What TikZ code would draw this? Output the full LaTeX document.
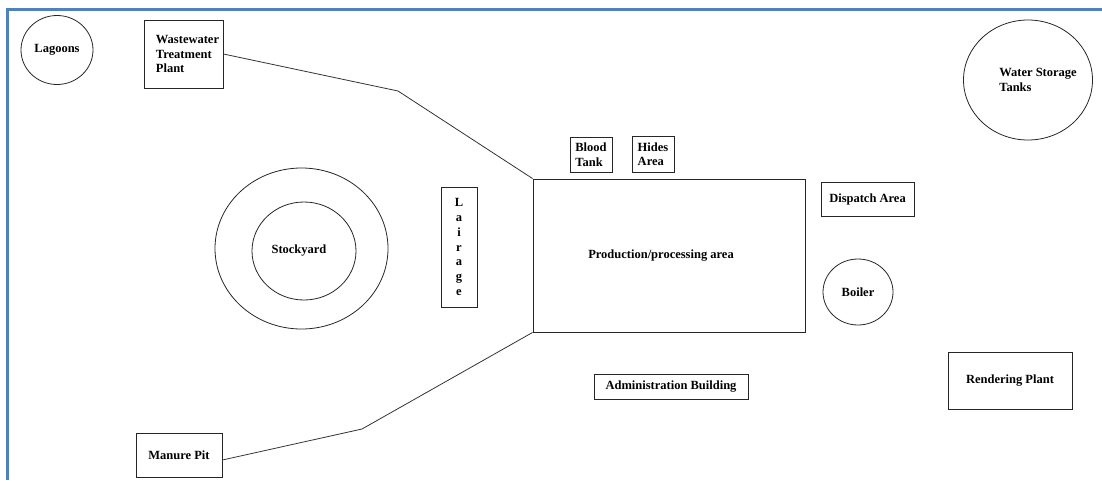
\documentclass[tikz,border=0pt]{standalone}
\usepackage{fontspec}
\setmainfont{Liberation Serif}
\usepackage{tikz}
\usetikzlibrary{shapes.geometric}
\usepackage{xcolor}
\definecolor{rahmenblau}{RGB}{79,129,189}

\begin{document}
\begin{tikzpicture}[x=1pt,y=-1pt,
  every node/.style={font=\fontsize{12.5}{14.5}\selectfont\bfseries},
  kasten/.style={draw=black!85,line width=0.9pt,inner sep=0pt},
  rund/.style={draw=black!85,line width=0.8pt,ellipse,inner sep=0pt},
  weg/.style={draw=black!80,line width=0.8pt}]
  \useasboundingbox (0,0) rectangle (1102,480);
  % Rahmen
  \draw[rahmenblau,line width=3pt] (7,480) -- (7,9) -- (1102,9);

  % Kreise
  \node[rund,minimum width=72,minimum height=69] (lagoons) at (57,50) {Lagoons};
  \node[rund,minimum width=129,minimum height=120] (tanks) at (1028,80) {};
  \node[align=left] (tankstext) at ([xshift=10pt]tanks.center) {Water Storage\\Tanks};
  \node[rund,minimum width=70,minimum height=66] (boiler) at (858,292) {Boiler};
  \node[rund,minimum width=173,minimum height=161] (yardring) at (301.5,248.5) {};
  \node[rund,minimum width=104,minimum height=98] (stockyard) at (304,251) {Stockyard\hspace*{10pt}};

  % Gebaeude
  \node[kasten,minimum width=79,minimum height=68,align=left] (wtp) at (183.5,54) {\hspace*{8pt}Wastewater\\\hspace*{8pt}Treatment\\\hspace*{8pt}Plant};
  \node[kasten,minimum width=36,minimum height=120,align=center,font=\fontsize{12.5}{14.8}\selectfont\bfseries] (lairage) at (459,247) {L\\a\\i\\r\\a\\g\\e};
  \node[kasten,minimum width=272,minimum height=153] (prod) at (669,255.5) {Production/processing area\hspace*{16pt}};
  \node[kasten,minimum width=42,minimum height=35,align=left] (blood) at (591,154.5) {Blood\\Tank};
  \node[kasten,minimum width=42,minimum height=36,align=left] (hides) at (653,154) {Hides\\Area};
  \node[kasten,minimum width=93,minimum height=34] (dispatch) at (867.5,199) {Dispatch Area};
  \node[kasten,minimum width=154,minimum height=25] (admin) at (671,386.5) {Administration Building};
  \node[kasten,minimum width=124,minimum height=57] (render) at (1010,380.5) {Rendering Plant};
  \node[kasten,minimum width=86,minimum height=44] (manure) at (179,455) {Manure Pit};

  % Wege
  \coordinate (knickoben) at (398,91);
  \coordinate (knickunten) at (362,429);
  \draw[weg] (wtp.east) -- (knickoben) -- (prod.north west);
  \draw[weg] (prod.south west) -- (knickunten) -- ([yshift=-5pt]manure.east);
\end{tikzpicture}
\end{document}
